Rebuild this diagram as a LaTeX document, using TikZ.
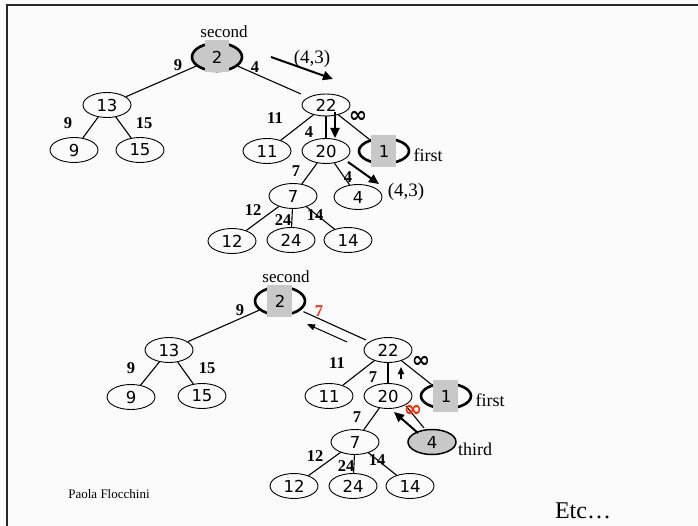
\documentclass[tikz,border=0pt]{standalone}
\usepackage{fontspec}
\setmainfont{Liberation Serif}
\newfontfamily\keyfont{DejaVu Sans}
\newfontfamily\infont{DejaVu Sans}
\usetikzlibrary{shapes.geometric,arrows.meta,calc}
\definecolor{paper}{RGB}{251,251,251}
\definecolor{hotgray}{RGB}{200,200,200}
\definecolor{flagred}{RGB}{255,40,0}
\newcommand{\infsym}{{\infont\bfseries\fontsize{22}{22}\selectfont ∞}}
\tikzset{
  vert/.style={ellipse, draw, line width=0.9pt, minimum width=48pt, minimum height=25pt,
    inner sep=0pt, font=\keyfont\fontsize{16.5}{16.5}\selectfont},
  hot/.style={vert, line width=2.6pt},
  keytext/.style={inner sep=0pt, font=\keyfont\fontsize{16.5}{16.5}\selectfont},
  edge/.style={line width=1.1pt},
  wt/.style={inner sep=0pt, font=\bfseries\fontsize{16.5}{16.5}\selectfont},
  tag/.style={inner sep=0pt, font=\fontsize{18}{18}\selectfont},
  msg/.style={-{Triangle[length=10pt,width=9pt]}, line width=2pt},
  thinmsg/.style={-{Triangle[length=8pt,width=6pt]}, line width=1pt},
}
\begin{document}
\begin{tikzpicture}[x=1pt,y=-1pt]
\fill[paper] (0,0) rectangle (698,526);
\useasboundingbox (0,0) rectangle (698,526);
% frame
\draw[line width=2pt, black!85] (7,526) -- (7,5) -- (698,5);

% ---------- first tree ----------
\node[hot, fill=hotgray, minimum width=50pt, minimum height=28pt] (a2) at (217,57) {};
\fill[hotgray] (204.5,40) rectangle (229,72);
\node[keytext] (a2t) at (a2) {2};
\node[tag, font=\fontsize{17}{17}\selectfont] (a2lab) at (224,32) {second};

\node[vert] (a13) at (107,105) {13};
\node[vert] (a9)  at (74,150) {9};
\node[vert] (a15) at (140,150) {15};
\node[vert, minimum height=22pt] (a22) at (326,105) {22};
\node[vert] (a11) at (267,151) {11};
\node[vert] (a20) at (326,151) {20};
\node[hot, minimum width=50pt] (a1) at (384,151) {};
\fill[hotgray] (371,135) rectangle (396,167);
\node[keytext] (a1t) at (a1) {1};
\node[tag] (a1lab) at (428,155) {first};
\node[vert] (a4)  at (358,197) {4};
\node[vert] (a7)  at (293,196) {7};
\node[vert] (a12) at (232,241) {12};
\node[vert] (a24) at (291,240) {24};
\node[vert] (a14) at (348,240) {14};

\draw[edge] (a2) -- (a13);
\draw[edge, shorten >=8pt] (a2) -- (a22);
\draw[edge] (a13) -- (a9);
\draw[edge] (a13) -- (a15);
\draw[edge] (a22) -- (a11);
\draw[edge] (a22) -- (a20);
\draw[edge] (a22) -- (a1);
\draw[edge] (a20) -- (a7);
\draw[edge] (a20) -- (a4);
\draw[edge] (a7) -- (a12);
\draw[edge] (a7) -- (a24);
\draw[edge] (a7) -- (a14);

\node[wt] (w1) at (178,65) {9};
\node[wt] (w2) at (255,67) {4};
\node[wt] (w3) at (68,123) {9};
\node[wt] (w4) at (144,123) {15};
\node[wt] (w5) at (275,118) {11};
\node[wt] (w6) at (309,132) {4};
\node[wt] (w7) at (358,117) {\infsym};
\node[wt] (w8) at (296,171) {7};
\node[wt] (w9) at (348,177) {4};
\node[wt] (w10) at (253,210) {12};
\node[wt] (w11) at (283,220) {24};
\node[wt] (w12) at (315,215) {14};

% messages
\coordinate (m1s) at (271,57); \coordinate (m1e) at (333,79);
\coordinate (m2s) at (335,112); \coordinate (m2e) at (335,138);
\coordinate (m3s) at (348,162); \coordinate (m3e) at (379,184);
\draw[msg] (m1s) -- (m1e);
\draw[msg] (m2s) -- (m2e);
\draw[msg] (m3s) -- (m3e);
\node[tag, font=\fontsize{19}{19}\selectfont] (p1) at (312,59) {(4,3)};
\node[tag, font=\fontsize{19}{19}\selectfont] (p2) at (406,192) {(4,3)};

% ---------- second tree ----------
\node[hot, minimum width=50pt, minimum height=28pt] (b2) at (280,301) {};
\fill[hotgray] (267,285) rectangle (292,317);
\node[keytext] (b2t) at (b2) {2};
\node[tag, font=\fontsize{17}{17}\selectfont] (b2lab) at (286,277) {second};

\node[vert] (b13) at (169,350) {13};
\node[vert] (b9)  at (131,397) {9};
\node[vert] (b15) at (202,396) {15};
\node[vert] (b22) at (388,350) {22};
\node[vert] (b11) at (329,396) {11};
\node[vert] (b20) at (388,396) {20};
\node[hot, minimum width=50pt] (b1) at (446,396) {};
\fill[hotgray] (433,380) rectangle (458,412);
\node[keytext] (b1t) at (b1) {1};
\node[tag] (b1lab) at (490,400) {first};
\node[vert, fill=hotgray, line width=1.5pt] (b4) at (432,442) {4};
\node[tag] (b4lab) at (475,449) {third};
\node[vert] (b7)  at (355,442) {7};
\node[vert] (b12) at (294,486) {12};
\node[vert] (b24) at (353,486) {24};
\node[vert] (b14) at (410,486) {14};

\draw[edge] (b2) -- (b13);
\draw[edge, shorten <=3pt, shorten >=4pt] (b2) -- (b22);
\draw[edge] (b13) -- (b9);
\draw[edge] (b13) -- (b15);
\draw[edge] (b22) -- (b11);
\draw[edge] (b22) -- (b20);
\draw[edge] (b22) -- (b1);
\draw[edge] (b20) -- (b7);
\draw[edge] ($(b20)+(18,10)$) -- ($(b4)+(-8,-14)$);
\draw[edge] (b7) -- (b12);
\draw[edge] (b7) -- (b24);
\draw[edge] (b7) -- (b14);

\node[wt] (v1) at (240,310) {9};
\node[inner sep=0pt, font=\bfseries\fontsize{16.5}{16.5}\selectfont, text=flagred] (v2) at (319,311) {7};
\node[wt] (v3) at (131,368) {9};
\node[wt] (v4) at (207,368) {15};
\node[wt] (v5) at (337,363) {11};
\node[wt] (v6) at (373,377) {7};
\node[wt] (v7) at (421,362) {\infsym};
\node[wt, text=flagred] (v9) at (413,411) {\infsym};
\node[wt] (v8) at (357,417) {7};
\node[wt] (v10) at (315,456) {12};
\node[wt] (v11) at (346,466) {24};
\node[wt] (v12) at (377,460) {14};

\coordinate (n1s) at (347,342); \coordinate (n1e) at (307,324);
\coordinate (n2s) at (401,379); \coordinate (n2e) at (401,367);
\coordinate (n3s) at (418,433); \coordinate (n3e) at (394,412);
\draw[thinmsg] (n1s) -- (n1e);
\draw[-{Triangle[length=7pt,width=6pt]}, line width=1.6pt] (n2s) -- (n2e);
\draw[msg] (n3s) -- (n3e);

% footer
\node[inner sep=0pt, font=\fontsize{13}{13}\selectfont] (author) at (109,494) {Paola Flocchini};
\node[inner sep=0pt, font=\fontsize{24}{24}\selectfont] (etc) at (583,511) {Etc…};
\end{tikzpicture}
\end{document}
